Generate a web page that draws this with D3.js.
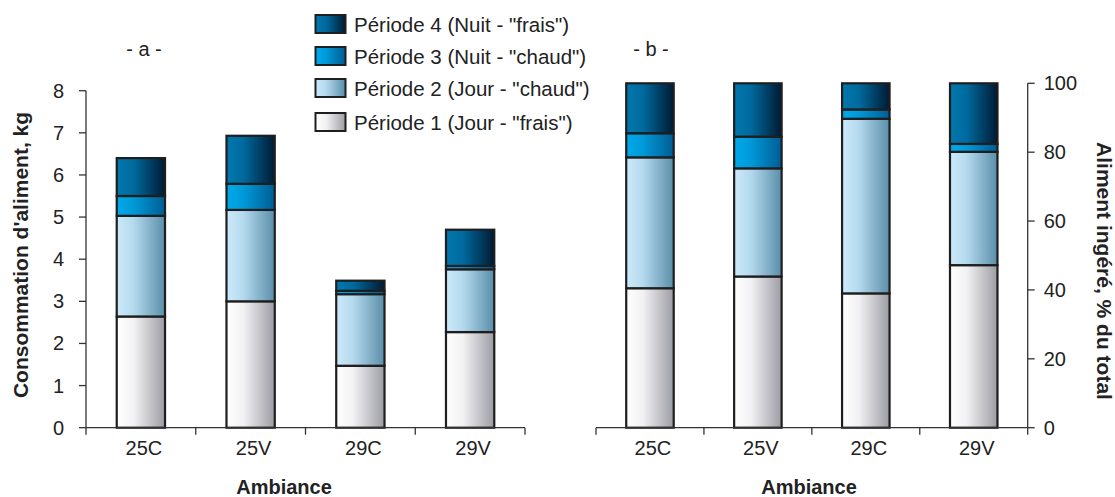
<!DOCTYPE html>
<html><head><meta charset="utf-8">
<script src="https://cdn.jsdelivr.net/npm/d3@7"></script>
<style>
body{margin:0;background:#fff;}
svg text{font-family:"Liberation Sans",Arial,sans-serif;fill:#222;}
</style></head>
<body>
<svg id="c" width="1115" height="497"></svg>
<script>
const categories = ["25C","25V","29C","29V"];
const seriesNames = ["Période 1 (Jour - \"frais\")","Période 2 (Jour - \"chaud\")","Période 3 (Nuit - \"chaud\")","Période 4 (Nuit - \"frais\")"];
// panel a : kg
const kgP1 = [2.64, 3.00, 1.47, 2.27];
const kgP2 = [2.39, 2.17, 1.70, 1.49];
const kgP3 = [0.47, 0.62, 0.08, 0.08];
const kgP4 = [0.90, 1.14, 0.24, 0.86];
// panel b : % du total
const pctP1 = [40.5, 43.9, 39.0, 47.2];
const pctP2 = [38.0, 31.4, 50.7, 32.9];
const pctP3 = [7.0, 9.2, 2.7, 2.3];
const pctP4 = [14.5, 15.5, 7.6, 17.6];
const ticksA = [0,1,2,3,4,5,6,7,8];
const ticksB = [0,20,40,60,80,100];

const svg = d3.select("#c");
const defs = svg.append("defs");
const grads = [
  [["0%","#ffffff"],["35%","#f2f2f4"],["100%","#9c9ca4"]],
  [["0%","#cdeafa"],["35%","#b4d9ee"],["100%","#5a8ea8"]],
  [["0%","#00aaeb"],["35%","#0099d8"],["100%","#005c94"]],
  [["0%","#0078ae"],["35%","#006a9e"],["100%","#001a33"]]
];
grads.forEach((g,i)=>{
  const lg = defs.append("linearGradient").attr("id","g"+i).attr("x1","0").attr("x2","1").attr("y1","0").attr("y2","0");
  g.forEach(s=>lg.append("stop").attr("offset",s[0]).attr("stop-color",s[1]));
});

const stroke = "#1e1e1e";
const FS = 20;

function panel(opts){
  const {x0,x1,y0,yTop,max,ticks,data,side} = opts;
  const x = d3.scaleBand().domain(categories).range([x0,x1]).paddingInner(0.56).paddingOuter(0.28);
  const y = d3.scaleLinear().domain([0,max]).range([y0,yTop]);
  const rows = categories.map((c,i)=>({cat:c, p0:data[0][i], p1:data[1][i], p2:data[2][i], p3:data[3][i]}));
  const stack = d3.stack().keys(["p0","p1","p2","p3"])(rows);
  const g = svg.append("g");
  stack.forEach((layer,li)=>{
    g.selectAll(null).data(layer).join("rect")
      .attr("x", d=>x(d.data.cat))
      .attr("width", x.bandwidth())
      .attr("y", d=>y(d[1]))
      .attr("height", d=>y(d[0])-y(d[1]))
      .attr("fill","url(#g"+li+")")
      .attr("stroke",stroke).attr("stroke-width",2.2);
  });
  // x axis
  const ax = svg.append("g").attr("stroke","#333").attr("stroke-width",1.3).attr("fill","none");
  ax.append("line").attr("x1",x0).attr("x2",x1).attr("y1",y0).attr("y2",y0);
  const step = x.step();
  const bounds = [x0].concat(categories.map(c=>x(c)+x.bandwidth()/2+step/2));
  bounds.forEach(b=>ax.append("line").attr("x1",b).attr("x2",b).attr("y1",y0).attr("y2",y0+7));
  svg.append("g").selectAll(null).data(categories).join("text")
    .attr("x",d=>x(d)+x.bandwidth()/2+3).attr("y",y0+27)
    .attr("text-anchor","middle").attr("font-size",FS).text(d=>d);
  // y axis
  const yx = side==="left"? x0 : x1;
  ax.append("line").attr("x1",yx).attr("x2",yx).attr("y1",y0).attr("y2",y(max));
  const dir = side==="left"? -1 : 1;
  ticks.forEach(t=>ax.append("line").attr("x1",yx).attr("x2",yx+dir*7).attr("y1",y(t)).attr("y2",y(t)));
  svg.append("g").selectAll(null).data(ticks).join("text")
    .attr("x", side==="left"? yx-22 : yx+16)
    .attr("y", d=>y(d)+7)
    .attr("text-anchor", side==="left"?"end":"start")
    .attr("font-size",FS).text(d=>d);
  return x;
}

panel({x0:86,x1:525,y0:427.7,yTop:90.7,max:8,ticks:ticksA,data:[kgP1,kgP2,kgP3,kgP4],side:"left"});
panel({x0:596,x1:1027.7,y0:427.7,yTop:83.3,max:100,ticks:ticksB,data:[pctP1,pctP2,pctP3,pctP4],side:"right"});

// titles
svg.append("text").attr("x",144).attr("y",56).attr("text-anchor","middle").attr("font-size",FS).text("- a -");
svg.append("text").attr("x",651).attr("y",56).attr("text-anchor","middle").attr("font-size",FS).text("- b -");
svg.append("text").attr("x",284).attr("y",494).attr("text-anchor","middle").attr("font-size",20).attr("font-weight","bold").text("Ambiance");
svg.append("text").attr("x",809).attr("y",494).attr("text-anchor","middle").attr("font-size",20).attr("font-weight","bold").text("Ambiance");
svg.append("text").attr("transform","translate(28,255) rotate(-90)").attr("text-anchor","middle").attr("font-size",21).attr("font-weight","bold").text("Consommation d'aliment, kg");
svg.append("text").attr("transform","translate(1097,271) rotate(90)").attr("text-anchor","middle").attr("font-size",21).attr("font-weight","bold").text("Aliment ingéré, % du total");

// legend (top to bottom: P4, P3, P2, P1)
const legendOrder = [3,2,1,0];
const legY = [15, 47, 79, 113];
const lg = svg.append("g");
legendOrder.forEach((si,k)=>{
  lg.append("rect").attr("x",315.5).attr("y",legY[k]).attr("width",30).attr("height",18)
    .attr("fill","url(#g"+si+")").attr("stroke",stroke).attr("stroke-width",2);
  lg.append("text").attr("x",354).attr("y",legY[k]+16.5).attr("font-size",20.5).text(seriesNames[si]);
});
</script>
</body></html>
